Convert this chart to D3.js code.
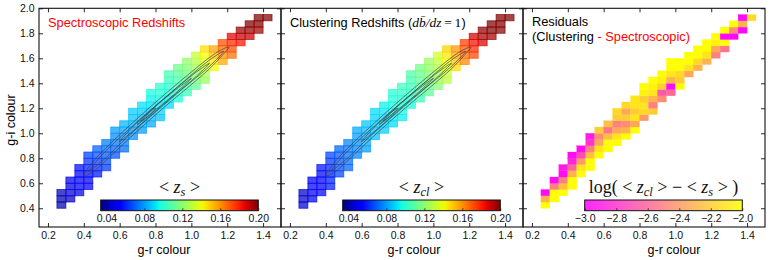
<!DOCTYPE html>
<html>
<head>
<meta charset="utf-8">
<script src="https://d3js.org/d3.v7.min.js"></script>
<style>
  body { margin: 0; background: #fff; }
  text { font-family: "Liberation Sans", Arial, sans-serif; }
</style>
</head>
<body>
<div id="chart"></div>
<script>

// lower edge of each g-r bin (bins are 0.05 wide in g-r and 0.05 tall in g-i)
var grBins = [0.25, 0.30, 0.35, 0.40, 0.45, 0.50, 0.55, 0.60, 0.65, 0.70, 0.75, 0.80,
              0.85, 0.90, 0.95, 1.00, 1.05, 1.10, 1.15, 1.20, 1.25, 1.30, 1.35, 1.40];

// lowest occupied g-i bin for every column (panels 1 and 2)
var specLow = [0.40, 0.45, 0.50, 0.55, 0.65, 0.70, 0.80, 0.85, 0.95, 1.00, 1.05, 1.10,
               1.20, 1.25, 1.30, 1.35, 1.40, 1.50, 1.55, 1.60, 1.70, 1.75, 1.80, 1.90];

// mean spectroscopic redshift, cells of each column from bottom to top
var zsMean = [
  [0.040, 0.041, 0.043],
  [0.044, 0.046, 0.048, 0.050],
  [0.048, 0.050, 0.052, 0.054, 0.056],
  [0.052, 0.054, 0.056, 0.059, 0.062, 0.065],
  [0.058, 0.061, 0.064, 0.067, 0.070],
  [0.063, 0.066, 0.069, 0.072, 0.075],
  [0.068, 0.071, 0.074, 0.077, 0.080],
  [0.072, 0.075, 0.078, 0.081, 0.084],
  [0.078, 0.080, 0.083, 0.086, 0.088],
  [0.080, 0.083, 0.086, 0.088, 0.091],
  [0.082, 0.085, 0.088, 0.091, 0.094, 0.096],
  [0.086, 0.089, 0.092, 0.095, 0.098, 0.101],
  [0.090, 0.093, 0.097, 0.100, 0.103, 0.106],
  [0.097, 0.100, 0.104, 0.107, 0.110, 0.113],
  [0.104, 0.107, 0.111, 0.115, 0.118, 0.121],
  [0.112, 0.116, 0.120, 0.124, 0.128, 0.132],
  [0.122, 0.126, 0.131, 0.136, 0.141, 0.146],
  [0.140, 0.145, 0.150, 0.156],
  [0.155, 0.160, 0.166, 0.172],
  [0.166, 0.172, 0.178, 0.186],
  [0.182, 0.190, 0.196],
  [0.190, 0.196, 0.200],
  [0.195, 0.199, 0.200],
  [0.200]
];

// mean clustering redshift, same cells
var zclMean = [
  [0.046, 0.045, 0.044],
  [0.050, 0.050, 0.050, 0.051],
  [0.054, 0.054, 0.055, 0.056, 0.057],
  [0.059, 0.060, 0.059, 0.061, 0.063, 0.066],
  [0.066, 0.067, 0.068, 0.069, 0.071],
  [0.071, 0.072, 0.073, 0.074, 0.076],
  [0.076, 0.077, 0.078, 0.080, 0.082],
  [0.080, 0.082, 0.083, 0.085, 0.087],
  [0.086, 0.087, 0.088, 0.089, 0.090],
  [0.088, 0.089, 0.091, 0.092, 0.094],
  [0.090, 0.092, 0.094, 0.096, 0.098, 0.099],
  [0.093, 0.095, 0.097, 0.099, 0.101, 0.104],
  [0.097, 0.099, 0.102, 0.104, 0.106, 0.108],
  [0.104, 0.106, 0.109, 0.111, 0.113, 0.115],
  [0.111, 0.113, 0.116, 0.119, 0.121, 0.123],
  [0.119, 0.122, 0.125, 0.128, 0.131, 0.134],
  [0.129, 0.132, 0.136, 0.140, 0.144, 0.148],
  [0.147, 0.151, 0.155, 0.159],
  [0.162, 0.166, 0.170, 0.175],
  [0.173, 0.178, 0.183, 0.189],
  [0.188, 0.194, 0.198],
  [0.195, 0.199, 0.202],
  [0.199, 0.202, 0.203],
  [0.205]
];

// residual panel: lowest g-i bin per column and log(<zcl> - <zs>) bottom to top
var resLow = [0.40, 0.45, 0.50, 0.55, 0.65, 0.70, 0.80, 0.85, 0.90, 0.95, 1.00, 1.10,
              1.15, 1.25, 1.30, 1.35, 1.45, 1.50, 1.55, 1.60, 1.65, 1.75, 1.80, 1.90];
var resLog = [
  [-2.0, -2.3, -2.97],
  [-2.0, -2.0, -2.5, -2.95],
  [-2.0, -2.25, -2.5, -2.95, -2.9],
  [-2.0, -2.0, -2.3, -2.6, -2.85, -2.95],
  [-2.0, -2.1, -2.4, -2.7, -2.95],
  [-2.0, -2.0, -2.25, -2.5, -2.8, -2.9],
  [-2.0, -2.1, -2.35, -2.45, -2.2],
  [-2.0, -2.0, -2.25, -2.55, -2.25],
  [-2.0, -2.1, -2.35, -2.5, -2.2, -2.15],
  [-2.0, -2.3, -2.45, -2.2, -2.35, -2.15],
  [-2.0, -2.35, -2.1, -2.2, -2.1, -2.1],
  [-2.4, -2.15, -2.1, -2.2, -2.05, -2.0],
  [-2.2, -2.5, -2.3, -2.1, -2.05, -2.0],
  [-2.45, -2.65, -2.2, -2.05, -2.0],
  [-2.6, -2.97, -2.3, -2.1, -2.0, -2.0],
  [-2.0, -2.2, -2.15, -2.0, -2.0],
  [-2.35, -2.1, -2.0, -2.0],
  [-2.3, -2.15, -2.0, -2.0],
  [-2.3, -2.1, -2.0, -2.0],
  [-2.5, -2.35, -2.05, -2.0],
  [-2.55, -2.0, -2.97, -2.0],
  [-2.97, -2.45, -2.0],
  [-2.97, -2.3, -2.97],
  [-2.15]
];

// number-density contours (g-r, g-i), outermost first
var contourLines = [
  [[0.40,0.66],[0.45,0.77],[0.55,0.92],[0.70,1.12],[0.85,1.31],[1.00,1.49],[1.10,1.605],[1.17,1.67],[1.21,1.69],
   [1.17,1.62],[1.10,1.515],[1.00,1.39],[0.85,1.21],[0.70,1.02],[0.55,0.82],[0.45,0.69]],
  [[0.43,0.70],[0.50,0.825],[0.65,1.03],[0.80,1.22],[0.95,1.405],[1.10,1.585],[1.18,1.655],
   [1.10,1.535],[0.95,1.355],[0.80,1.17],[0.65,0.98],[0.50,0.775]],
  [[0.60,0.935],[0.70,1.09],[0.85,1.28],[1.00,1.46],[1.10,1.56],
   [1.00,1.42],[0.85,1.24],[0.70,1.05]],
  [[0.70,1.07],[0.80,1.215],[0.90,1.334],[1.00,1.44],[0.90,1.306],[0.80,1.187]],
  [[0.72,1.10],[0.76,1.162],[0.80,1.20],[0.76,1.138]]
];

var xTicks = [0.2, 0.4, 0.6, 0.8, 1.0, 1.2, 1.4];
var yTicks = [0.4, 0.6, 0.8, 1.0, 1.2, 1.4, 1.6, 1.8, 2.0];
var zTicks = [0.04, 0.08, 0.12, 0.16, 0.20];
var resTicks = [-3.0, -2.8, -2.6, -2.4, -2.2, -2.0];

var binW = 0.05, binH = 0.05;

// layout
var panelLeft = [39, 281, 523],
    panelTop = 8.3,
    width = 242,
    height = 218.7;

var svg = d3.select("#chart")
  .append("svg")
    .attr("width", 780)
    .attr("height", 260);

var defs = svg.append("defs");

var x = d3.scaleLinear().domain([0.15, 1.5]).range([0, width]);
var y = d3.scaleLinear().domain([0.25, 2.0]).range([height, 0]);

// matplotlib jet
var jr = d3.scaleLinear().domain([0, 0.35, 0.66, 0.89, 1]).range([0, 0, 1, 1, 0.5]).clamp(true);
var jg = d3.scaleLinear().domain([0, 0.125, 0.375, 0.64, 0.91, 1]).range([0, 0, 1, 1, 0, 0]).clamp(true);
var jb = d3.scaleLinear().domain([0, 0.11, 0.34, 0.65, 1]).range([0.5, 1, 1, 0, 0]).clamp(true);
function jet(t) { return d3.rgb(jr(t) * 255, jg(t) * 255, jb(t) * 255).formatHex(); }
function spring(t) { t = Math.max(0, Math.min(1, t)); return d3.rgb(255, t * 255, (1 - t) * 255).formatHex(); }

var zNorm = d3.scaleLinear().domain([0.034, 0.2]).range([0, 1]).clamp(true);
var resNorm = d3.scaleLinear().domain([-3, -2]).range([0, 1]).clamp(true);

function cellsFrom(low, vals) {
  var out = [];
  grBins.forEach(function(gr, k) {
    vals[k].forEach(function(v, j) {
      out.push({gr: gr, gi: low[k] + j * binH, v: v});
    });
  });
  return out;
}

var panels = [
  {cells: cellsFrom(specLow, zsMean), color: function(v){ return jet(zNorm(v)); }, alpha: 0.72, contours: true,
   cbDomain: [0.034, 0.2], cbTicks: zTicks, cbFmt: d3.format(".2f"), cbColor: jet},
  {cells: cellsFrom(specLow, zclMean), color: function(v){ return jet(zNorm(v)); }, alpha: 0.72, contours: true,
   cbDomain: [0.034, 0.2], cbTicks: zTicks, cbFmt: d3.format(".2f"), cbColor: jet},
  {cells: cellsFrom(resLow, resLog), color: function(v){ return spring(resNorm(v)); }, alpha: 1, contours: false,
   cbDomain: [-3, -2], cbTicks: resTicks, cbFmt: d3.format(".1f"), cbColor: spring}
];

var contourLine = d3.line()
  .x(function(d){ return x(d[0]); })
  .y(function(d){ return y(d[1]); })
  .curve(d3.curveCatmullRomClosed.alpha(0.5));

panels.forEach(function(p, i) {
  var g = svg.append("g")
    .attr("transform", "translate(" + panelLeft[i] + "," + panelTop + ")");

  // heatmap cells
  g.append("g")
    .selectAll("rect")
    .data(p.cells)
    .enter()
    .append("rect")
      .attr("x", function(d){ return x(d.gr); })
      .attr("y", function(d){ return y(d.gi + binH); })
      .attr("width", function(d){ return x(d.gr + binW) - x(d.gr); })
      .attr("height", function(d){ return y(d.gi) - y(d.gi + binH); })
      .attr("fill", function(d){ return p.color(d.v); })
      .attr("fill-opacity", p.alpha)
      .attr("stroke", function(d){ return p.color(d.v); })
      .attr("stroke-opacity", p.alpha < 1 ? p.alpha : 1)
      .attr("stroke-width", p.alpha < 1 ? 0.9 : 0.3);

  if (p.contours) {
    g.append("g")
      .selectAll("path")
      .data(contourLines)
      .enter()
      .append("path")
        .attr("d", contourLine)
        .attr("fill", "none")
        .attr("stroke", "#404040")
        .attr("stroke-opacity", 0.8)
        .attr("stroke-width", 0.85);
  }

  // axes, ticks pointing inward on all four sides
  g.append("g")
    .attr("transform", "translate(0," + height + ")")
    .call(d3.axisBottom(x).tickValues(xTicks).tickSize(-4).tickSizeOuter(0).tickPadding(5)
          .tickFormat(d3.format(".1f")));
  g.append("g")
    .call(d3.axisTop(x).tickValues(xTicks).tickSize(-4).tickSizeOuter(0).tickFormat(""));
  g.append("g")
    .call(d3.axisLeft(y).tickValues(yTicks).tickSize(-4).tickSizeOuter(0).tickPadding(4.5)
          .tickFormat(i === 0 ? d3.format(".1f") : ""));
  g.append("g")
    .attr("transform", "translate(" + width + ",0)")
    .call(d3.axisRight(y).tickValues(yTicks).tickSize(-4).tickSizeOuter(0).tickFormat(""));

  g.selectAll(".domain").remove();
  g.selectAll(".tick line").attr("stroke", "#111").attr("stroke-width", 0.9);
  g.selectAll(".tick text")
    .style("font-family", "'Liberation Sans', Arial, sans-serif")
    .style("font-size", "10.5px")
    .attr("fill", "#111");

  g.append("rect")
    .attr("width", width)
    .attr("height", height)
    .attr("fill", "none")
    .attr("stroke", "#111")
    .attr("stroke-width", 1.1);

  // colour bar
  var cbX = d3.scaleLinear().domain(p.cbDomain).range([61.7, 219.3]);
  var cbTop = 191.7, cbH = 10.7;
  var grad = defs.append("linearGradient")
    .attr("id", "cb" + i)
    .attr("x1", "0%").attr("x2", "100%").attr("y1", "0%").attr("y2", "0%");
  d3.range(0, 1.0001, 1 / 40).forEach(function(t) {
    grad.append("stop")
      .attr("offset", (t * 100) + "%")
      .attr("stop-color", p.cbColor(t));
  });
  g.append("rect")
    .attr("x", cbX.range()[0])
    .attr("y", cbTop)
    .attr("width", cbX.range()[1] - cbX.range()[0])
    .attr("height", cbH)
    .attr("fill", "url(#cb" + i + ")")
    .attr("fill-opacity", i === 2 ? 0.85 : 1)
    .attr("stroke", "#111")
    .attr("stroke-width", 1);
  var cbAxis = g.append("g")
    .attr("transform", "translate(0," + (cbTop + cbH) + ")")
    .call(d3.axisBottom(cbX).tickValues(p.cbTicks).tickSize(-2.5).tickSizeOuter(0).tickPadding(4.3)
          .tickFormat(p.cbFmt));
  cbAxis.select(".domain").remove();
  cbAxis.selectAll(".tick line").attr("stroke", "#111").attr("stroke-width", 0.7);
  cbAxis.selectAll(".tick text")
    .style("font-family", "'Liberation Sans', Arial, sans-serif")
    .style("font-size", "10.5px")
    .attr("fill", "#111");

  // x label
  svg.append("text")
    .attr("x", [164, 414, 674][i])
    .attr("y", 253.5)
    .attr("text-anchor", "middle")
    .style("font-size", "12.5px")
    .text("g-r colour");
});

// y label
svg.append("text")
  .attr("transform", "translate(15," + 120 + ") rotate(-90)")
  .attr("text-anchor", "middle")
  .style("font-size", "12.5px")
  .text("g-i colour");

// panel titles
svg.append("text")
  .attr("x", 48)
  .attr("y", 26.5)
  .attr("fill", "#ff0000")
  .style("font-size", "12.8px")
  .text("Spectroscopic Redshifts");

var t2 = svg.append("text").attr("x", 290).attr("y", 26.5).style("font-size", "12.8px");
t2.append("tspan").text("Clustering Redshifts (");
t2.append("tspan").style("font-family", "'Liberation Serif', serif").style("font-style", "italic")
  .style("font-size", "13.5px").text("d\u0062\u0304/dz");
t2.append("tspan").style("font-family", "'Liberation Serif', serif").style("font-size", "13.5px").text("\u2009=\u20091");
t2.append("tspan").text(")");

svg.append("text")
  .attr("x", 532)
  .attr("y", 25.5)
  .style("font-size", "12.8px")
  .text("Residuals");
var t3 = svg.append("text").attr("x", 532).attr("y", 40.5).style("font-size", "12.8px");
t3.append("tspan").text("(Clustering ");
t3.append("tspan").attr("fill", "#ff0000").text("- Spectroscopic)");

// colour bar titles, math style
function mathTitle(cx, parts) {
  var t = svg.append("text")
    .attr("x", cx)
    .attr("y", 193)
    .attr("text-anchor", "middle")
    .style("font-family", "'Liberation Serif', 'DejaVu Serif', serif")
    .style("font-size", "18px")
    .attr("fill", "#111");
  parts.forEach(function(pt) {
    var s = t.append("tspan").text(pt.s);
    if (pt.it) s.style("font-style", "italic");
    if (pt.sub) s.style("font-size", "12.5px").attr("dy", 3);
    if (pt.up) s.attr("dy", -3);
  });
}
mathTitle(39 + 140.5, [{s: "< "}, {s: "z", it: true}, {s: "s", it: true, sub: true}, {s: " >", up: true}]);
mathTitle(281 + 140.5, [{s: "< "}, {s: "z", it: true}, {s: "cl", it: true, sub: true}, {s: " >", up: true}]);
mathTitle(523 + 140.5, [{s: "log( < "}, {s: "z", it: true}, {s: "cl", it: true, sub: true},
                        {s: " > \u2212 < ", up: true}, {s: "z", it: true}, {s: "s", it: true, sub: true},
                        {s: " > )", up: true}]);

</script>
</body>
</html>
